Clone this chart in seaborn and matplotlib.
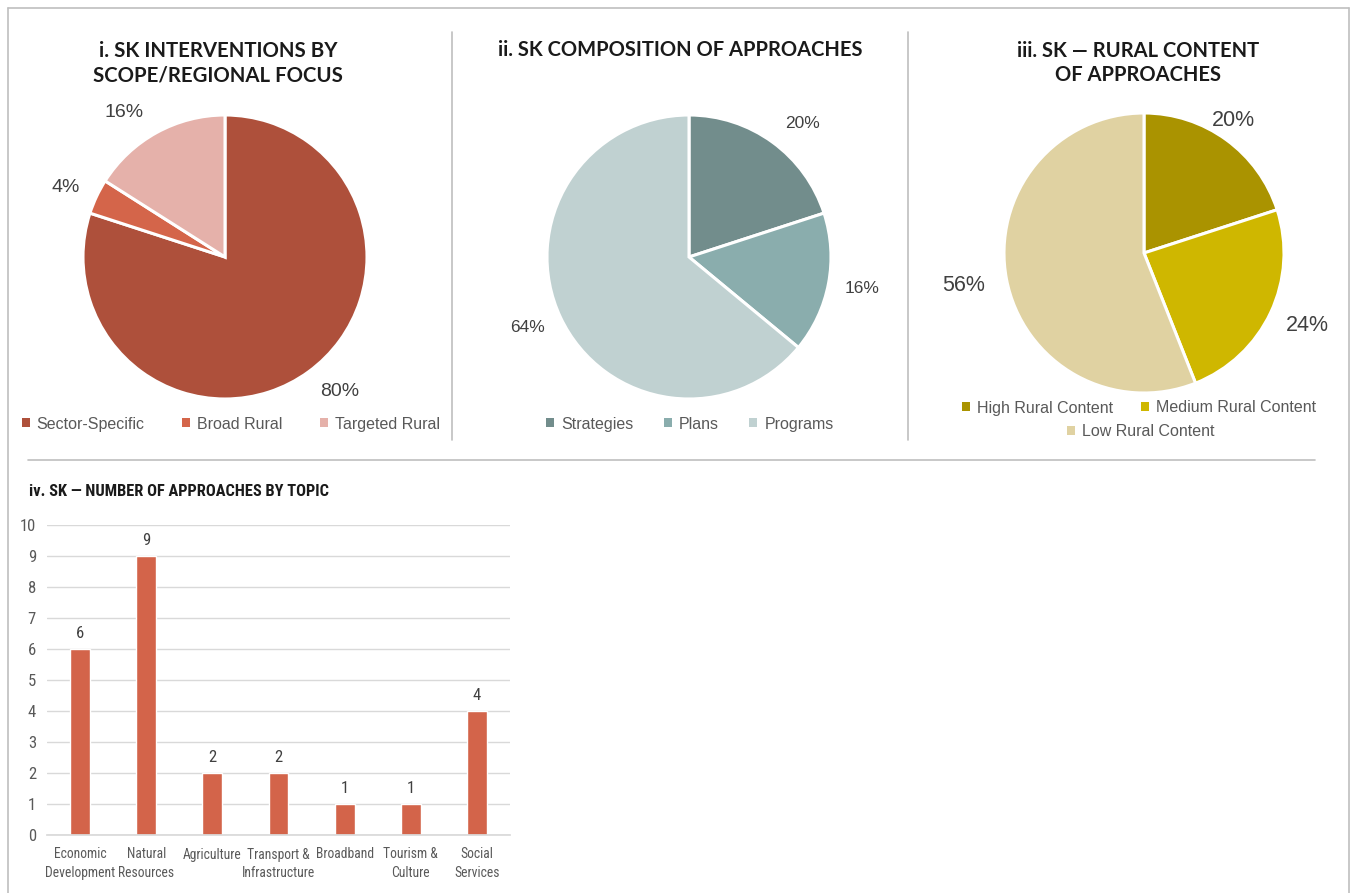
import os
import matplotlib
matplotlib.use("Agg")
import matplotlib.pyplot as plt
from matplotlib.lines import Line2D
from matplotlib.patches import Patch
from matplotlib import font_manager as fm
import seaborn as sns

# ---- data ----
scope_labels = ["Sector-Specific", "Broad Rural", "Targeted Rural"]
scope_values = [80, 4, 16]

composition_labels = ["Strategies", "Plans", "Programs"]
composition_values = [20, 16, 64]

rural_labels = ["High Rural Content", "Medium Rural Content", "Low Rural Content"]
rural_values = [20, 24, 56]

topics = ["Economic\nDevelopment", "Natural\nResources", "Agriculture",
          "Transport &\nInfrastructure", "Broadband", "Tourism &\nCulture",
          "Social\nServices"]
topic_counts = [6, 9, 2, 2, 1, 1, 4]

# ---- style ----
sns.set_theme(style="white")
plt.rcParams["font.family"] = ["Liberation Sans", "DejaVu Sans"]


def find_narrow(bold=False):
    """Pick a narrow/condensed face from the installed fonts."""
    prefs = ["liberationsansnarrow", "robotocondensed", "dejavusanscondensed",
             "opensanscondensed", "notosanscondensed"]
    found = {}
    for f in fm.fontManager.ttflist:
        base = os.path.basename(f.fname).lower().replace("-", "").replace("_", "")
        for p in prefs:
            if base.startswith(p):
                rest = base[len(p):]
                is_bold = "bold" in rest and "semi" not in rest and "extra" not in rest
                is_italic = "italic" in rest or "oblique" in rest
                if is_italic or ("light" in rest) or ("thin" in rest) \
                        or ("black" in rest) or ("medium" in rest):
                    continue
                if "semibold" in rest or "extrabold" in rest:
                    continue
                if is_bold == bold:
                    found.setdefault(p, f.fname)
    for p in prefs:
        if p in found:
            return fm.FontProperties(fname=found[p])
    return None


narrow_reg = find_narrow(False)
narrow_bold = find_narrow(True)

W, H = 1351, 893
fig = plt.figure(figsize=(W / 100, H / 100), dpi=100)
fig.patch.set_facecolor("white")

TEXT = "#404040"
LEG = "#595959"
FRAME = "#BFBFBF"
TITLE_FONT = ["Lato", "DejaVu Sans"]


def px_rect(x0, y0, w, h):
    return [x0 / W, 1 - (y0 + h) / H, w / W, h / H]


def fx(x):
    return x / W


def fy(y):
    return 1 - y / H


# frame and dividers
for (x0, y0, x1, y1) in [(8, 8, 1349, 8), (8, 8, 8, 893), (1349, 8, 1349, 893),
                         (452, 32, 452, 440), (908, 32, 908, 440),
                         (28, 460, 1315, 460)]:
    fig.add_artist(Line2D([fx(x0), fx(x1)], [fy(y0), fy(y1)],
                          color=FRAME, lw=1.2))


def add_legend(labels, colors, anchor, ncol, colspacing=2.6):
    handles = [Patch(facecolor=c, edgecolor="none") for c in colors]
    fig.legend(handles, labels, loc="center",
               bbox_to_anchor=(fx(anchor[0]), fy(anchor[1])),
               ncol=ncol, frameon=False, fontsize=11.5, labelcolor=LEG,
               handlelength=0.5, handleheight=0.5, handletextpad=0.45,
               columnspacing=colspacing, borderaxespad=0, borderpad=0)


def draw_pie(cx, cy, r, values, colors, label_pos, label_size,
             title_lines, title_x, title_y, title_size=14.5):
    ax = fig.add_axes(px_rect(cx - r, cy - r, 2 * r, 2 * r))
    ax.pie(values, colors=colors, startangle=90, counterclock=False,
           radius=1.0, wedgeprops=dict(edgecolor="white", linewidth=2.2))
    ax.set_xlim(-1, 1)
    ax.set_ylim(-1, 1)
    ax.set_aspect("equal")
    ax.axis("off")
    for v, (dx, dy) in zip(values, label_pos):
        ax.text(dx, dy, f"{v}%", ha="center", va="center",
                fontsize=label_size, color=TEXT, clip_on=False)
    fig.text(fx(title_x), fy(title_y), title_lines, ha="center", va="center",
             fontsize=title_size, fontweight="bold", family=TITLE_FONT,
             color="#1a1a1a", linespacing=1.3)
    return ax


c1 = ["#AE503B", "#D4654A", "#E5B1AA"]
draw_pie(225, 257, 142, scope_values, c1,
         [(0.81, -0.95), (-1.12, 0.49), (-0.71, 1.02)], 14,
         "i. SK INTERVENTIONS BY\nSCOPE/REGIONAL FOCUS", 218, 63, 14.7)
add_legend(scope_labels, c1, (231, 424), 3, colspacing=2.35)

c2 = ["#728D8C", "#8AADAD", "#C0D1D1"]
draw_pie(689, 257, 142, composition_values, c2,
         [(0.80, 0.94), (1.22, -0.22), (-1.14, -0.50)], 12.5,
         "ii. SK COMPOSITION OF APPROACHES", 680, 50)
add_legend(composition_labels, c2, (690, 424), 3, colspacing=1.9)

c3 = ["#AA9300", "#CFB700", "#E0D2A2"]
draw_pie(1144, 253, 140, rural_values, c3,
         [(0.64, 0.95), (1.17, -0.52), (-1.29, -0.23)], 15.5,
         "iii. SK \u2014 RURAL CONTENT\nOF APPROACHES", 1138, 63)
add_legend(rural_labels[:2], c3[:2], (1139, 408), 2, colspacing=1.75)
add_legend(rural_labels[2:], c3[2:], (1141, 432), 1)

# ---- bar chart ----
bx0, bx1 = 47, 510
by_top, by_bot = 525, 835
axb = fig.add_axes(px_rect(bx0, by_top, bx1 - bx0, by_bot - by_top))
sns.barplot(x=topics, y=topic_counts, color="#D3644A", width=0.3,
            saturation=1, ax=axb)
axb.set_xlim(-0.5, len(topics) - 0.5)
axb.set_ylim(0, 10)
axb.set_yticks(range(0, 11))
axb.yaxis.grid(True, color="#D9D9D9", lw=1)
axb.set_axisbelow(True)
for s in ["top", "right", "left"]:
    axb.spines[s].set_visible(False)
axb.spines["bottom"].set_color("#D9D9D9")

x_size = 9.8 if narrow_reg is not None else 8.5
y_size = 12 if narrow_reg is not None else 10
axb.tick_params(axis="both", length=0, colors=LEG)
axb.tick_params(axis="y", pad=8, labelsize=y_size)
axb.tick_params(axis="x", pad=9, labelsize=x_size)
for t in axb.get_xticklabels():
    if narrow_reg is not None:
        t.set_fontproperties(narrow_reg)
        t.set_fontsize(x_size)
    t.set_linespacing(1.4)
for t in axb.get_yticklabels():
    if narrow_reg is not None:
        t.set_fontproperties(narrow_reg)
        t.set_fontsize(y_size)
axb.set_xlabel("")
axb.set_ylabel("")
for c in axb.containers:
    labels = axb.bar_label(c, labels=[str(v) for v in topic_counts],
                           padding=6, fontsize=12, color=TEXT)
    for t in labels:
        if narrow_reg is not None:
            t.set_fontproperties(narrow_reg)
            t.set_fontsize(12)

title4 = fig.text(fx(29), fy(491), "iv. SK \u2014 NUMBER OF APPROACHES BY TOPIC",
                  ha="left", va="center", color="#1a1a1a")
if narrow_bold is not None:
    title4.set_fontproperties(narrow_bold)
    title4.set_fontsize(11.8)
else:
    title4.set_fontsize(10)
    title4.set_fontweight("bold")

fig.savefig("out.png", dpi=100, facecolor="white")
